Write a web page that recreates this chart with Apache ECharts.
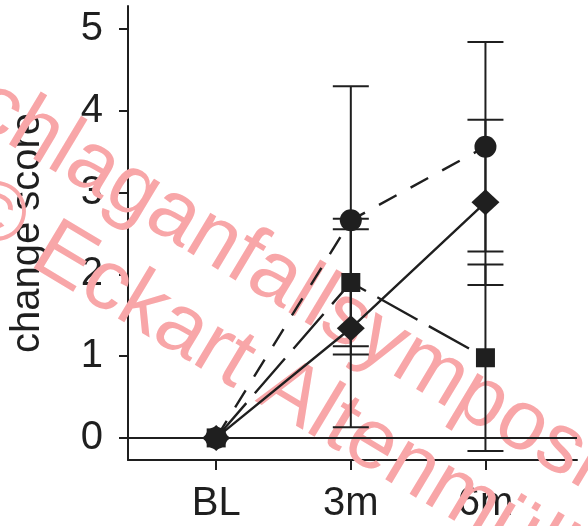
<!DOCTYPE html>
<html>
<head>
<meta charset="utf-8">
<script src="https://cdn.jsdelivr.net/npm/echarts@6/dist/echarts.min.js"></script>
<style>
  html, body { margin: 0; padding: 0; background: #fff; }
  #chart { width: 588px; height: 526px; }
</style>
</head>
<body>
<div id="chart"></div>
<script>
// Time points and tick values
const categories = ['BL', '3m', '6m'];
const xPositions = [0, 1, 2];
const yTicks = [0, 1, 2, 3, 4, 5];

// Group means and standard deviations (change score)
const circleMean = [0, 2.66, 3.56];
const circleSD = [0, 1.64, 1.28];
const squareMean = [0, 1.90, 0.98];
const squareSD = [0, 0.78, 1.14];
const diamondMean = [0, 1.34, 2.88];
const diamondSD = [0, 1.21, 1.01];

const ink = '#1f1f1f';
const font = 'Liberation Sans, Arial, Helvetica, sans-serif';

function pairs(mean) {
  return mean.map((v, i) => [xPositions[i], v]);
}

function errorData(mean, sd) {
  const out = [];
  mean.forEach((v, i) => {
    if (sd[i] > 0) out.push([xPositions[i], v - sd[i], v + sd[i]]);
  });
  return out;
}

function renderError(params, api) {
  const x = api.value(0);
  const top = api.coord([x, api.value(2)]);
  const bot = api.coord([x, api.value(1)]);
  const hw = 18;
  const style = { stroke: ink, lineWidth: 2 };
  return {
    type: 'group',
    children: [
      { type: 'line', shape: { x1: top[0], y1: top[1], x2: bot[0], y2: bot[1] }, style },
      { type: 'line', shape: { x1: top[0] - hw, y1: top[1], x2: top[0] + hw, y2: top[1] }, style },
      { type: 'line', shape: { x1: bot[0] - hw, y1: bot[1], x2: bot[0] + hw, y2: bot[1] }, style }
    ]
  };
}

function errorSeries(mean, sd) {
  return {
    type: 'custom',
    renderItem: renderError,
    data: errorData(mean, sd),
    encode: { x: 0, y: [1, 2] },
    silent: true,
    z: 3
  };
}

function lineSeries(mean, symbol, size, dash) {
  return {
    type: 'line',
    data: pairs(mean),
    symbol: symbol,
    symbolSize: size,
    showSymbol: true,
    itemStyle: { color: ink },
    lineStyle: { color: ink, width: 2.4, type: dash },
    silent: true,
    animation: false,
    z: 4
  };
}

const deg = Math.PI / 180;
const wmColor = '#f8a6a8';
const wmFont = '85px ' + font;

const chart = echarts.init(document.getElementById('chart'), null, { renderer: 'canvas' });
chart.setOption({
  animation: false,
  backgroundColor: '#fff',
  grid: { left: 126, right: 11, top: 6, bottom: 66, containLabel: false },
  xAxis: {
    type: 'value',
    min: -0.655,
    max: 2.68,
    axisLine: { show: true, onZero: false, lineStyle: { color: ink, width: 2 } },
    axisTick: { show: true, customValues: xPositions, length: 10, lineStyle: { color: ink, width: 2 } },
    axisLabel: {
      customValues: xPositions,
      formatter: v => categories[Math.round(v)],
      fontSize: 40, color: ink, fontFamily: font, margin: 24
    },
    splitLine: { show: false }
  },
  yAxis: {
    type: 'value',
    min: -0.27,
    max: 5.28,
    name: 'change score',
    nameLocation: 'middle',
    nameRotate: 90,
    nameGap: 80,
    nameTextStyle: { fontSize: 40, color: ink, fontFamily: font },
    axisLine: { show: true, onZero: false, lineStyle: { color: ink, width: 2 } },
    axisTick: { show: true, customValues: yTicks, length: 9, lineStyle: { color: ink, width: 2 } },
    axisLabel: { customValues: yTicks, fontSize: 40, color: ink, fontFamily: font, margin: 25 },
    splitLine: { show: false }
  },
  graphic: [
    {
      type: 'text', x: -69, y: 70, rotation: -31 * deg, z: 1, silent: true,
      style: { text: 'Schlaganfallsymposium', fill: wmColor, font: wmFont, textAlign: 'left', textVerticalAlign: 'middle' }
    },
    {
      type: 'text', x: -34, y: 200, rotation: -31 * deg, z: 1, silent: true,
      style: { text: '\u00A9 Eckart Altenmüller', fill: wmColor, font: wmFont, textAlign: 'left', textVerticalAlign: 'middle' }
    }
  ],
  series: [
    {
      type: 'line',
      data: [],
      silent: true,
      markLine: {
        silent: true,
        symbol: 'none',
        label: { show: false },
        lineStyle: { color: ink, width: 2, type: 'solid' },
        data: [{ yAxis: 0 }]
      }
    },
    errorSeries(circleMean, circleSD),
    errorSeries(squareMean, squareSD),
    errorSeries(diamondMean, diamondSD),
    lineSeries(diamondMean, 'diamond', [28, 26], 'solid'),
    lineSeries(squareMean, 'rect', 19, [46, 13]),
    lineSeries(circleMean, 'circle', 22, [20, 16])
  ]
});
</script>
</body>
</html>
